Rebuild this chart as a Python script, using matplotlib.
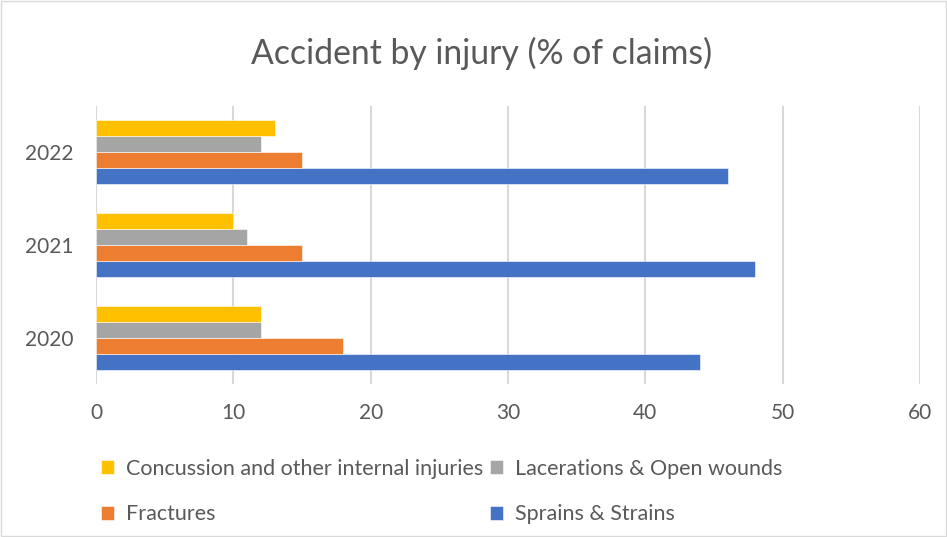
import matplotlib.pyplot as plt
import numpy as np
from matplotlib.patches import Rectangle

plt.rcParams['font.family'] = ['Lato', 'DejaVu Sans']

# data
years = ['2020', '2021', '2022']
sprains = [44, 48, 46]
fractures = [18, 15, 15]
lacerations = [12, 11, 12]
concussion = [12, 10, 13]

series = [
    ('Sprains & Strains', sprains, '#4472C4'),
    ('Fractures', fractures, '#ED7D31'),
    ('Lacerations & Open wounds', lacerations, '#A5A5A5'),
    ('Concussion and other internal injuries', concussion, '#FFC000'),
]

text_col = '#595959'
fig = plt.figure(figsize=(9.47, 5.37), dpi=100)
ax = fig.add_axes([0.1014, 0.284, 0.8701, 0.5195])

y = np.arange(len(years))
h = 0.172
bars = {}
for i, (name, vals, col) in enumerate(series):
    offset = (i - 1.5) * h
    bars[name] = ax.barh(y + offset, vals, height=h, color=col, label=name,
                         edgecolor='white', linewidth=0.4, zorder=3)

ax.set_xlim(0, 60)
ax.set_ylim(-0.5, 2.5)
ax.set_xticks(range(0, 61, 10))
ax.set_yticks(y)
ax.set_yticklabels(years)
ax.grid(axis='x', color='#D9D9D9', linewidth=1.5, zorder=0)
ax.tick_params(axis='both', length=0, labelsize=15, colors=text_col)
ax.tick_params(axis='x', pad=13)
ax.tick_params(axis='y', pad=16)
for sp in ax.spines.values():
    sp.set_visible(False)

fig.text(0.509, 0.9, 'Accident by injury (% of claims)', ha='center', va='center',
         fontsize=24.3, color=text_col)

order = ['Concussion and other internal injuries', 'Fractures',
         'Lacerations & Open wounds', 'Sprains & Strains']
leg = fig.legend([bars[n] for n in order], order, ncol=2,
                 loc='upper left', bbox_to_anchor=(0.107, 0.146),
                 frameon=False, fontsize=15.5, labelcolor=text_col,
                 handlelength=0.6, handleheight=0.6, handletextpad=0.55,
                 columnspacing=0.3, labelspacing=1.2, borderaxespad=0,
                 borderpad=0)

# light chart border
fig.patches.append(Rectangle((0.001, 0.001), 0.998, 0.998, transform=fig.transFigure,
                             fill=False, edgecolor='#D9D9D9', linewidth=1))

fig.savefig('out.png', dpi=100)
